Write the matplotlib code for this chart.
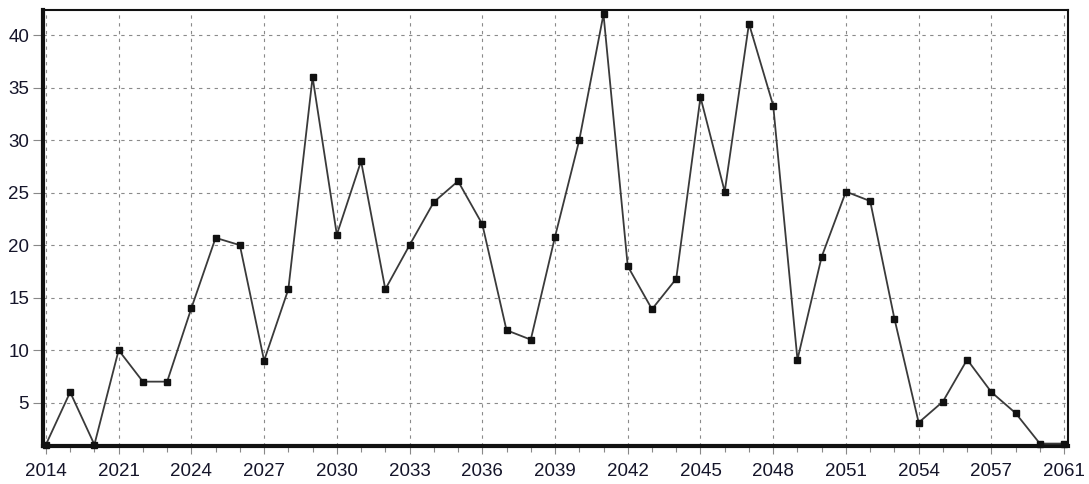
import matplotlib
matplotlib.use("Agg")
import matplotlib.pyplot as plt
import numpy as np

years = [2014, 2017, 2019] + list(range(2021, 2060)) + [2061]
values = [1, 6, 1, 10, 7, 7, 14, 20.7, 20, 9, 15.8, 36, 21, 28,
          15.8, 20, 24.1, 26.1, 22, 11.9, 11, 20.8, 30, 42, 18, 13.9, 16.8,
          34.1, 25.1, 41.1, 33.3, 9.1, 18.9, 25.1, 24.2, 13, 3.1, 5.1, 9.1,
          6, 4, 1.1, 1.1]
y_ticks = [5, 10, 15, 20, 25, 30, 35, 40]

plt.rcParams['font.family'] = ['Liberation Sans', 'DejaVu Sans']

fig = plt.figure(figsize=(10.89, 4.84), dpi=100)
ax = fig.add_axes([43/1089, 38/484, 1025/1089, 436/484])

x = np.arange(len(values))
ax.plot(x, values, color='#3a3a3a', lw=1.3, marker='s', markersize=4.5,
        markerfacecolor='#111111', markeredgecolor='#111111', zorder=3,
        clip_on=False)

ax.set_xlim(-0.12, 42.16)
ax.set_ylim(0.87, 42.4)

major = list(range(0, len(values), 3))
ax.set_xticks(major)
ax.set_xticklabels([str(years[i]) for i in major])
ax.set_xticks(x, minor=True)
ax.set_yticks(y_ticks)
ax.set_yticklabels([str(v) for v in y_ticks])

ax.grid(True, which='major', color='#8a8a8a', lw=0.8, linestyle=(0, (3, 4)))

for side in ['left', 'bottom']:
    ax.spines[side].set_linewidth(3.0)
for side in ['top', 'right']:
    ax.spines[side].set_linewidth(1.5)
for s in ax.spines.values():
    s.set_color('#111111')

ax.tick_params(axis='x', which='major', length=6, width=0.8, color='#888888',
               labelsize=13.5, labelcolor='#15152a', pad=6)
ax.tick_params(axis='x', which='minor', length=4, width=0.8, color='#888888')
ax.tick_params(axis='y', which='major', length=7, width=0.8, color='#888888',
               labelsize=13.5, labelcolor='#15152a', pad=3)

fig.savefig('out.png', dpi=100, facecolor='white')
